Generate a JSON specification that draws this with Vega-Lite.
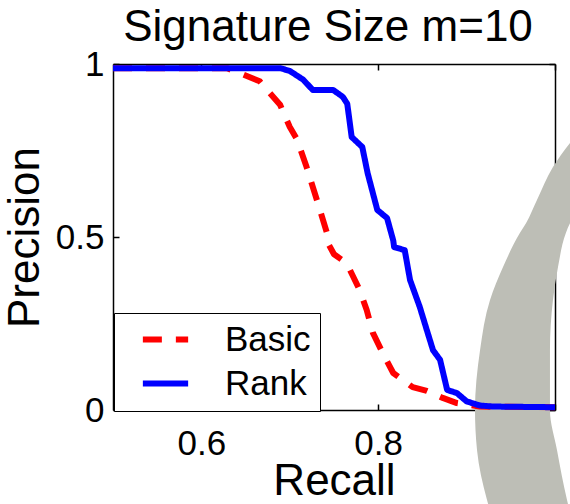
{
  "$schema": "https://vega.github.io/schema/vega-lite/v6.json",
  "width": 442,
  "height": 346,
  "autosize": {"type": "none"},
  "padding": {"left": 113, "top": 64, "right": 15, "bottom": 94},
  "background": "white",
  "title": {
    "text": "Signature Size m=10",
    "font": "Liberation Sans",
    "fontSize": 44,
    "fontWeight": "normal",
    "color": "black",
    "offset": -3,
    "dx": -6
  },
  "config": {
    "view": {"stroke": null},
    "axis": {
      "labelFont": "Liberation Sans",
      "labelFontSize": 35,
      "labelColor": "black",
      "titleFont": "Liberation Sans",
      "titleFontSize": 44,
      "titleFontWeight": "normal",
      "titleColor": "black",
      "domainColor": "black",
      "domainWidth": 1.5,
      "tickColor": "black",
      "tickWidth": 1.5,
      "tickSize": -6,
      "grid": false,
      "zindex": 1
    }
  },
  "layer": [
    {
      "data": {
        "values": [
          {"p": 0.838, "outer": 1.0396, "inner": 1.1188},
          {"p": 0.772, "outer": 1.017, "inner": 1.0962},
          {"p": 0.702, "outer": 0.9977, "inner": 1.0679},
          {"p": 0.607, "outer": 0.9796, "inner": 1.0396},
          {"p": 0.54, "outer": 0.9672, "inner": 1.017},
          {"p": 0.512, "outer": 0.9604, "inner": 1.0124},
          {"p": 0.413, "outer": 0.9412, "inner": 1.0034},
          {"p": 0.318, "outer": 0.9265, "inner": 0.9977},
          {"p": 0.173, "outer": 0.9152, "inner": 0.9943},
          {"p": 0.0, "outer": 0.9095, "inner": 0.9943},
          {"p": -0.116, "outer": 0.9118, "inner": 1.0023},
          {"p": -0.26, "outer": 0.9231, "inner": 1.0136},
          {"p": -0.318, "outer": 0.9299, "inner": 1.0192}
        ]
      },
      "mark": {"type": "area", "orient": "horizontal", "clip": false, "color": "#bdbeb6", "interpolate": "monotone"},
      "encoding": {
        "y": {
          "field": "p",
          "type": "quantitative",
          "scale": {"domain": [0, 1]},
          "axis": {"orient": "right", "values": [0, 0.5, 1], "labels": false, "title": null}
        },
        "x": {
          "field": "outer",
          "type": "quantitative",
          "scale": {"domain": [0.5, 1]},
          "axis": {"orient": "top", "values": [0.6, 0.8, 1], "labels": false, "title": null}
        },
        "x2": {"field": "inner"}
      }
    },
    {
      "data": {
        "values": [
          {"series": "Basic", "i": 0, "recall": 0.5, "precision": 0.988},
          {"series": "Basic", "i": 1, "recall": 0.629, "precision": 0.988},
          {"series": "Basic", "i": 2, "recall": 0.647, "precision": 0.97},
          {"series": "Basic", "i": 3, "recall": 0.666, "precision": 0.95},
          {"series": "Basic", "i": 4, "recall": 0.689, "precision": 0.882},
          {"series": "Basic", "i": 5, "recall": 0.7, "precision": 0.818},
          {"series": "Basic", "i": 6, "recall": 0.708, "precision": 0.783},
          {"series": "Basic", "i": 7, "recall": 0.719, "precision": 0.702},
          {"series": "Basic", "i": 8, "recall": 0.731, "precision": 0.604},
          {"series": "Basic", "i": 9, "recall": 0.742, "precision": 0.512},
          {"series": "Basic", "i": 10, "recall": 0.743, "precision": 0.483},
          {"series": "Basic", "i": 11, "recall": 0.75, "precision": 0.45},
          {"series": "Basic", "i": 12, "recall": 0.759, "precision": 0.434},
          {"series": "Basic", "i": 13, "recall": 0.768, "precision": 0.405},
          {"series": "Basic", "i": 14, "recall": 0.779, "precision": 0.347},
          {"series": "Basic", "i": 15, "recall": 0.787, "precision": 0.289},
          {"series": "Basic", "i": 16, "recall": 0.794, "precision": 0.223},
          {"series": "Basic", "i": 17, "recall": 0.805, "precision": 0.165},
          {"series": "Basic", "i": 18, "recall": 0.817, "precision": 0.107},
          {"series": "Basic", "i": 19, "recall": 0.839, "precision": 0.066},
          {"series": "Basic", "i": 20, "recall": 0.855, "precision": 0.055},
          {"series": "Basic", "i": 21, "recall": 0.873, "precision": 0.035},
          {"series": "Basic", "i": 22, "recall": 0.889, "precision": 0.02},
          {"series": "Basic", "i": 23, "recall": 0.915, "precision": 0.01},
          {"series": "Basic", "i": 24, "recall": 1.0, "precision": 0.008},
          {"series": "Rank", "i": 0, "recall": 0.5, "precision": 0.988},
          {"series": "Rank", "i": 1, "recall": 0.689, "precision": 0.988},
          {"series": "Rank", "i": 2, "recall": 0.7, "precision": 0.98},
          {"series": "Rank", "i": 3, "recall": 0.715, "precision": 0.955},
          {"series": "Rank", "i": 4, "recall": 0.726, "precision": 0.925},
          {"series": "Rank", "i": 5, "recall": 0.749, "precision": 0.925},
          {"series": "Rank", "i": 6, "recall": 0.76, "precision": 0.905},
          {"series": "Rank", "i": 7, "recall": 0.765, "precision": 0.885},
          {"series": "Rank", "i": 8, "recall": 0.77, "precision": 0.789},
          {"series": "Rank", "i": 9, "recall": 0.782, "precision": 0.76},
          {"series": "Rank", "i": 10, "recall": 0.788, "precision": 0.685},
          {"series": "Rank", "i": 11, "recall": 0.799, "precision": 0.578},
          {"series": "Rank", "i": 12, "recall": 0.81, "precision": 0.555},
          {"series": "Rank", "i": 13, "recall": 0.817, "precision": 0.49},
          {"series": "Rank", "i": 14, "recall": 0.818, "precision": 0.471},
          {"series": "Rank", "i": 15, "recall": 0.83, "precision": 0.462},
          {"series": "Rank", "i": 16, "recall": 0.836, "precision": 0.376},
          {"series": "Rank", "i": 17, "recall": 0.847, "precision": 0.298},
          {"series": "Rank", "i": 18, "recall": 0.855, "precision": 0.231},
          {"series": "Rank", "i": 19, "recall": 0.862, "precision": 0.173},
          {"series": "Rank", "i": 20, "recall": 0.87, "precision": 0.145},
          {"series": "Rank", "i": 21, "recall": 0.878, "precision": 0.058},
          {"series": "Rank", "i": 22, "recall": 0.889, "precision": 0.049},
          {"series": "Rank", "i": 23, "recall": 0.9, "precision": 0.025},
          {"series": "Rank", "i": 24, "recall": 0.915, "precision": 0.013},
          {"series": "Rank", "i": 25, "recall": 0.93, "precision": 0.01},
          {"series": "Rank", "i": 26, "recall": 1.0, "precision": 0.008}
        ]
      },
      "mark": {"type": "line", "strokeWidth": 6, "strokeCap": "butt", "strokeJoin": "round"},
      "encoding": {
        "x": {
          "field": "recall",
          "type": "quantitative",
          "scale": {"domain": [0.5, 1]},
          "axis": {"orient": "bottom", "values": [0.6, 0.8, 1], "format": "~g", "title": "Recall", "labelPadding": 22, "titlePadding": -2}
        },
        "y": {
          "field": "precision",
          "type": "quantitative",
          "scale": {"domain": [0, 1]},
          "axis": {"orient": "left", "values": [0, 0.5, 1], "format": "~g", "title": "Precision", "labelPadding": 15, "titlePadding": 8}
        },
        "color": {
          "field": "series",
          "type": "nominal",
          "scale": {"domain": ["Basic", "Rank"], "range": ["#ff0000", "#0000ff"]},
          "legend": {
            "orient": "none", "legendX": 1, "legendY": 249, "title": null,
            "direction": "vertical",
            "strokeColor": "black", "fillColor": "white", "padding": 9,
            "symbolType": "M-2.83,0H2.83", "symbolSize": 256, "symbolStrokeWidth": 6,
            "labelFont": "Liberation Sans", "labelFontSize": 35, "labelColor": "black",
            "rowPadding": 8, "symbolOffset": 25, "labelOffset": 61,
            "encode": {"labels": {"update": {"dx": {"value": -19}}}}
          }
        },
        "strokeDash": {
          "field": "series",
          "type": "nominal",
          "scale": {"domain": ["Basic", "Rank"], "range": [[19, 14], [1, 0]]},
          "legend": {
            "orient": "none", "legendX": 1, "legendY": 249, "title": null,
            "direction": "vertical",
            "strokeColor": "black", "fillColor": "white", "padding": 9,
            "symbolType": "M-2.83,0H2.83", "symbolSize": 256, "symbolStrokeWidth": 6,
            "labelFont": "Liberation Sans", "labelFontSize": 35, "labelColor": "black",
            "rowPadding": 8, "symbolOffset": 25, "labelOffset": 61,
            "encode": {"labels": {"update": {"dx": {"value": -19}}}}
          }
        },
        "order": {"field": "i", "type": "quantitative"}
      }
    }
  ],
  "resolve": {"axis": {"x": "independent", "y": "independent"}}
}
